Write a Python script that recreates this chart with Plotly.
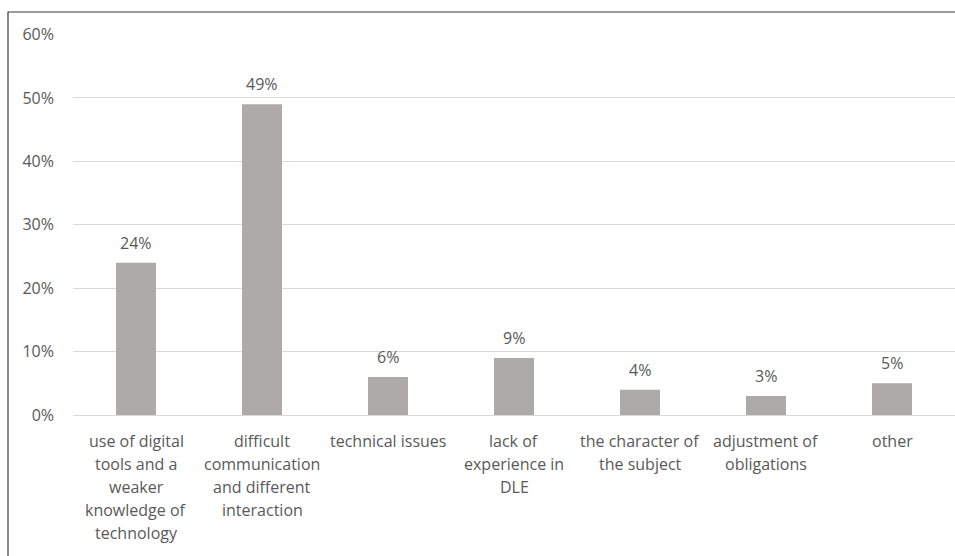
import plotly.graph_objects as go

# Survey results: main difficulties reported
categories = [
    "use of digital tools and a weaker knowledge of technology",
    "difficult communication and different interaction",
    "technical issues",
    "lack of experience in DLE",
    "the character of the subject",
    "adjustment of obligations",
    "other",
]
category_lines = [
    ["use of digital", "tools and a", "weaker", "knowledge of", "technology"],
    ["difficult", "communication", "and different", "interaction"],
    ["technical issues"],
    ["lack of", "experience in", "DLE"],
    ["the character of", "the subject"],
    ["adjustment of", "obligations"],
    ["other"],
]
shares = [24, 49, 6, 9, 4, 3, 5]  # percent
y_ticks = [0, 10, 20, 30, 40, 50, 60]

W, H = 955, 556
L, R, T, B = 73, 0, 34, 141
plot_w = W - L - R
plot_h = H - T - B
Y_MAX = 0.6

FONT = "Open Sans"
TXT = "#595959"
BAR = "#aeaaaa"
GRID = "#d9d9d9"
FS = 16

fig = go.Figure(
    go.Bar(
        x=categories,
        y=[v / 100 for v in shares],
        marker=dict(color=BAR, line=dict(width=0)),
        hoverinfo="skip",
    )
)

annotations = []
# value labels above bars
for c, v in zip(categories, shares):
    annotations.append(dict(
        x=c, y=v / 100, xref="x", yref="y", text=f"{v}%", showarrow=False,
        yshift=20, font=dict(family=FONT, size=FS, color=TXT),
        xanchor="center", yanchor="middle",
    ))
# category labels below the axis, one line at a time
for c, lines in zip(categories, category_lines):
    for i, line in enumerate(lines):
        annotations.append(dict(
            x=c, y=-(26 + 23 * i) / plot_h, xref="x", yref="paper",
            text=line, showarrow=False,
            font=dict(family=FONT, size=FS, color=TXT),
            xanchor="center", yanchor="middle",
        ))

# frame around the chart
shapes = [dict(
    type="rect", xref="paper", yref="paper",
    x0=(8 - L) / plot_w, x1=1.05,
    y0=-1.0, y1=(H - B - 12) / plot_h,
    line=dict(color="#3a3a3a", width=1.2), fillcolor="rgba(0,0,0,0)", layer="above",
)]

fig.update_layout(
    width=W, height=H,
    margin=dict(l=L, r=R, t=T, b=B),
    paper_bgcolor="white", plot_bgcolor="white",
    bargap=1 - 40 / 126,
    showlegend=False,
    annotations=annotations,
    shapes=shapes,
    xaxis=dict(showticklabels=False, showgrid=False, zeroline=False, showline=False,
               ticks="", fixedrange=True),
    yaxis=dict(range=[0, Y_MAX + 0.0008], tickvals=[t / 100 for t in y_ticks],
               ticktext=[f"{t}%" for t in y_ticks],
               showgrid=True, gridcolor=GRID, gridwidth=1,
               zeroline=True, zerolinecolor=GRID, zerolinewidth=1,
               showline=False, ticks="", ticklabelstandoff=18,
               tickfont=dict(family=FONT, size=FS, color=TXT), fixedrange=True),
)

fig.write_html("out.html", config={"displayModeBar": False})
